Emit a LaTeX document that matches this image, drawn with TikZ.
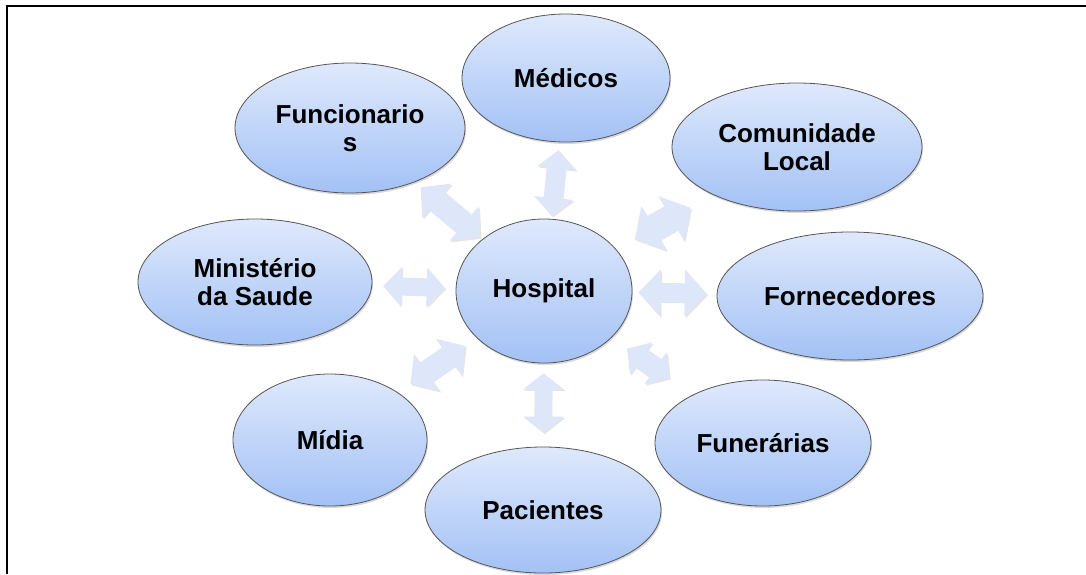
\documentclass[tikz,border=0pt]{standalone}
\usepackage{fontspec}
\setmainfont{Liberation Sans}
\usepackage{tikz}
\usetikzlibrary{arrows.meta, shapes.geometric, shadows}

\definecolor{ellTop}{RGB}{223,233,252}
\definecolor{ellBot}{RGB}{163,193,245}
\definecolor{arrFill}{RGB}{221,231,249}
\definecolor{ellLine}{RGB}{85,85,85}

\begin{document}
\begin{tikzpicture}[x=1pt, y=-1pt,
  ell/.style={ellipse, draw=ellLine, line width=0.8pt, top color=ellTop, bottom color=ellBot,
    inner sep=0pt, align=center, font=\bfseries\fontsize{26}{28}\selectfont,
    drop shadow={shadow xshift=1pt, shadow yshift=-2pt, opacity=.3}},
  dbl/.style n args={3}{draw=arrFill, line width=#1pt,
    arrows={Triangle[length=#2pt,width=#3pt]-Triangle[length=#2pt,width=#3pt]},
    preaction={draw=black!10, transform canvas={shift={(1.5pt,-1.5pt)}}}}
]
\useasboundingbox (0,0) rectangle (1086,574);
\draw[line width=2.5pt] (7,574) -- (7,6) -- (1086,6);

\node (hosp) [ell, minimum width=176pt, minimum height=144pt] at (544,291) {Hospital};
\node (med)  [ell, minimum width=208pt, minimum height=128pt] at (566,78)  {Médicos};
\node (func) [ell, minimum width=230pt, minimum height=130pt] at (350,128) {Funcionario\\s};
\node (com)  [ell, minimum width=250pt, minimum height=128pt] at (797,147) {Comunidade\\Local};
\node (min)  [ell, minimum width=234pt, minimum height=126pt] at (255,282) {Ministério\\da Saude};
\node (forn) [ell, minimum width=266pt, minimum height=128pt] at (850,296) {Fornecedores};
\node (mid)  [ell, minimum width=194pt, minimum height=132pt] at (330,440) {Mídia};
\node (fun)  [ell, minimum width=216pt, minimum height=126pt] at (763,443) {Funerárias};
\node (pac)  [ell, minimum width=236pt, minimum height=126pt] at (543,510) {Pacientes};

\draw[dbl={20}{18}{38}, shorten <=3pt,  shorten >=8pt]  (hosp) -- (med);
\draw[dbl={24}{21}{44}, shorten <=3pt,  shorten >=8pt]  (hosp) -- (func);
\draw[dbl={28}{22}{50}, shorten <=21pt, shorten >=26pt] (hosp) -- (com);
\draw[dbl={18}{18}{38}, shorten <=11pt, shorten >=11pt] (hosp) -- (min);
\draw[dbl={20}{22}{46}, shorten <=6pt,  shorten >=10pt] (hosp) -- (forn);
\draw[dbl={24}{20}{44}, shorten <=14pt, shorten >=15pt] (hosp) -- (mid);
\draw[dbl={22}{17}{38}, shorten <=19pt, shorten >=29pt] (hosp) -- (fun);
\draw[dbl={18}{16}{40}, shorten <=10pt, shorten >=14pt] (hosp) -- (pac);
\end{tikzpicture}
\end{document}
